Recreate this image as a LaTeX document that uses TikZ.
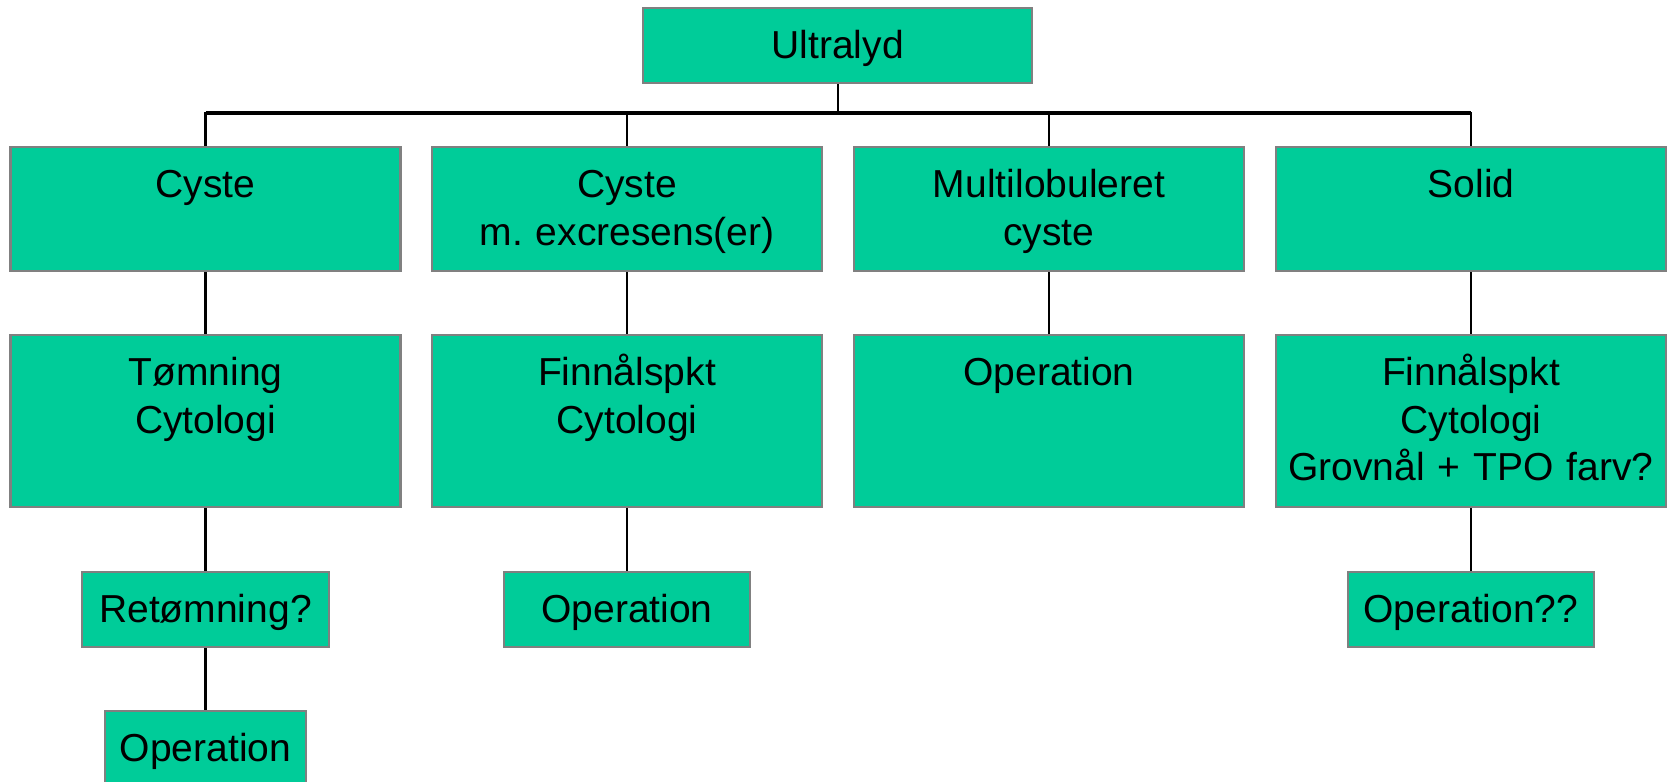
\documentclass[tikz,border=0pt]{standalone}
\usepackage{fontspec}
\setmainfont{Liberation Sans}
\usetikzlibrary{positioning,calc}

\definecolor{mint}{RGB}{0,204,153}
\definecolor{edgegray}{RGB}{128,128,128}

\tikzset{
    stage/.style={draw=edgegray,fill=mint,line width=0.7pt,inner sep=0pt,align=center,anchor=north,
        text height=0.5cm,text depth=0.25cm,font=\fontsize{11.1}{13.6}\selectfont},
    col/.style={stage,text width=3.9cm},
    link/.style={line width=0.6pt}
}

\begin{document}
\begin{tikzpicture}
    \useasboundingbox (0,0) rectangle (16.73,-7.82);

    % Root
    \node[stage,text width=3.89cm] (ultra) at (8.376,-0.07) {Ultralyd};
    \coordinate (bar) at (8.376,-1.13);

    % Findings
    \node[col,text depth=0.74cm] (cyst) at (2.055,-1.46) {Cyste};
    \node[col,text depth=0.74cm] (excr) at (6.27,-1.46) {Cyste\\m.\ excresens(er)};
    \node[col,text depth=0.74cm] (multi) at (10.49,-1.46) {Multilobuleret\\cyste};
    \node[col,text depth=0.74cm] (solid) at (14.71,-1.46) {Solid};

    % Procedures
    \node[col,text depth=1.22cm] (tom) at (2.055,-3.34) {Tømning\\Cytologi};
    \node[col,text depth=1.22cm] (finA) at (6.27,-3.34) {Finnålspkt\\Cytologi};
    \node[col,text depth=1.22cm] (opMulti) at (10.49,-3.34) {Operation};
    \node[col,text depth=1.22cm] (finB) at (14.71,-3.34) {Finnålspkt\\Cytologi\\Grovnål + TPO farv?};

    % Follow up
    \node[stage,text width=2.47cm] (retom) at (2.055,-5.71) {Retømning?};
    \node[stage,text width=2.46cm] (opExcr) at (6.27,-5.71) {Operation};
    \node[stage,text width=2.46cm] (opSolid) at (14.71,-5.71) {Operation??};
    \node[stage,text width=2.01cm] (opCyst) at (2.055,-7.10) {Operation};

    % Connectors
    \draw[link] (ultra.south) -- (bar);
    \draw[line width=0.9pt] (cyst.north |- bar) -- (solid.north |- bar);
    \foreach \n in {cyst,excr,multi,solid}
        \draw[link] (bar) -| (\n.north);
    \draw[link] (cyst.south) -- (tom.north);
    \draw[link] (excr.south) -- (finA.north);
    \draw[link] (multi.south) -- (opMulti.north);
    \draw[link] (solid.south) -- (finB.north);
    \draw[link] (tom.south) -- (retom.north);
    \draw[link] (retom.south) -- (opCyst.north);
    \draw[link] (finA.south) -- (opExcr.north);
    \draw[link] (finB.south) -- (opSolid.north);
\end{tikzpicture}
\end{document}
